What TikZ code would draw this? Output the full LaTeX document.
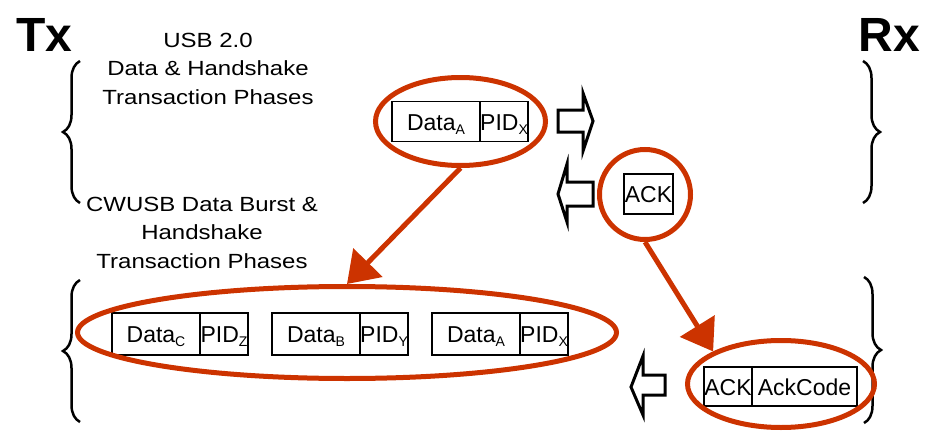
\documentclass[tikz,border=0pt]{standalone}
\usepackage{fontspec}
\setmainfont{Liberation Sans}
\newfontfamily\labelfont[FakeStretch=1.17]{Liberation Sans}
\usetikzlibrary{positioning, arrows.meta}
\usetikzlibrary{shapes,decorations.pathreplacing}
\definecolor{usbred}{RGB}{204,51,0}
\newcommand{\lowsub}[1]{\raisebox{-4pt}{\fontsize{14}{14}\selectfont #1}}

\begin{document}
\begin{tikzpicture}[x=1pt, y=-1pt,
		cell/.style={draw, line width=1.2pt, inner sep=0pt, outer sep=0pt, minimum height=40pt,
			text height=17pt, text depth=-1pt, font=\fontsize{23}{23}\selectfont},
		datacell/.style={cell, minimum width=88pt},
		pidcell/.style={cell, minimum width=48pt},
		ring/.style={draw=usbred, line width=5pt, ellipse, inner sep=0pt},
		hop/.style={draw=usbred, line width=5pt, -{Triangle[length=30pt, width=40pt]}},
		side/.style={font=\fontsize{48}{48}\selectfont\bfseries, inner sep=0pt},
		phase/.style={font=\labelfont\fontsize{20.5}{28.5}\selectfont, align=center, inner sep=0pt},
		bracket/.style={decorate, decoration={brace, amplitude=17pt}, line width=2.5pt},
		flow/.style={draw, line width=3pt, line join=miter}]
	\useasboundingbox (0,0) rectangle (930,431);

	\node[side, anchor=base west] (tx) at (16,51.7) {Tx};
	\node[side, anchor=base east] (rx) at (920,51.7) {Rx};

	\node[phase, anchor=north] (usbphases) at (208,32.5)
		{USB 2.0\\Data \& Handshake\\Transaction Phases};
	\node[phase, anchor=north] (cwusbphases) at (202,196.5)
		{CWUSB Data Burst \&\\Handshake\\Transaction Phases};

	% side braces
	\draw[bracket] (80,203) -- (80,61);
	\draw[bracket] (80,422) -- (80,280);
	\draw[bracket] (863,61) -- (863,203);
	\draw[bracket] (864,277) -- (864,423);

	% usb 2.0 packets
	\node[datacell] (topdata) at (436,121.5) {Data\lowsub{A}};
	\node[pidcell, right=0pt of topdata] (toppid) {PID\lowsub{X}};
	\node[cell, minimum width=49pt] (topack) at (648.5,194) {ACK};

	% cwusb burst
	\node[datacell, minimum height=42pt] (dataC) at (156,334) {Data\lowsub{C}};
	\node[pidcell, minimum height=42pt, right=0pt of dataC] (pidZ) {PID\lowsub{Z}};
	\node[datacell, minimum height=42pt, right=24pt of pidZ] (dataB) {Data\lowsub{B}};
	\node[pidcell, minimum height=42pt, right=0pt of dataB] (pidY) {PID\lowsub{Y}};
	\node[datacell, minimum height=42pt, right=24pt of pidY] (dataA) {Data\lowsub{A}};
	\node[pidcell, minimum height=42pt, right=0pt of dataA] (pidX) {PID\lowsub{X}};
	\node[cell, minimum width=48pt, minimum height=39pt] (ackB) at (728,386.5) {ACK};
	\node[cell, minimum width=105pt, minimum height=39pt, right=0pt of ackB] (ackcode) {AckCode};

	% direction arrows
	\draw[flow] (558,110) -- (583,110) -- (583,93) -- (593,121) -- (583,151) -- (583,132) -- (558,132) -- cycle;
	\draw[flow] (593,182) -- (567,182) -- (567,164) -- (558,194) -- (567,222) -- (567,206) -- (593,206) -- cycle;
	\draw[flow] (665,375) -- (643,375) -- (643,356) -- (631,387) -- (643,415) -- (643,395) -- (665,395) -- cycle;

	% highlight rings
	\node[ring, minimum width=170pt, minimum height=88pt] (topring) at (460.5,121.5) {};
	\node[ring, minimum width=91pt, minimum height=90pt] (ackring) at (645,194.5) {};
	\node[ring, minimum width=539pt, minimum height=92pt] (burstring) at (347,332.5) {};
	\node[ring, minimum width=187pt, minimum height=87pt] (codering) at (781,384) {};

	\draw[hop] (topring.south) -- (burstring.north);
	\draw[hop] (ackring.south) -- (codering.north west);
\end{tikzpicture}
\end{document}
